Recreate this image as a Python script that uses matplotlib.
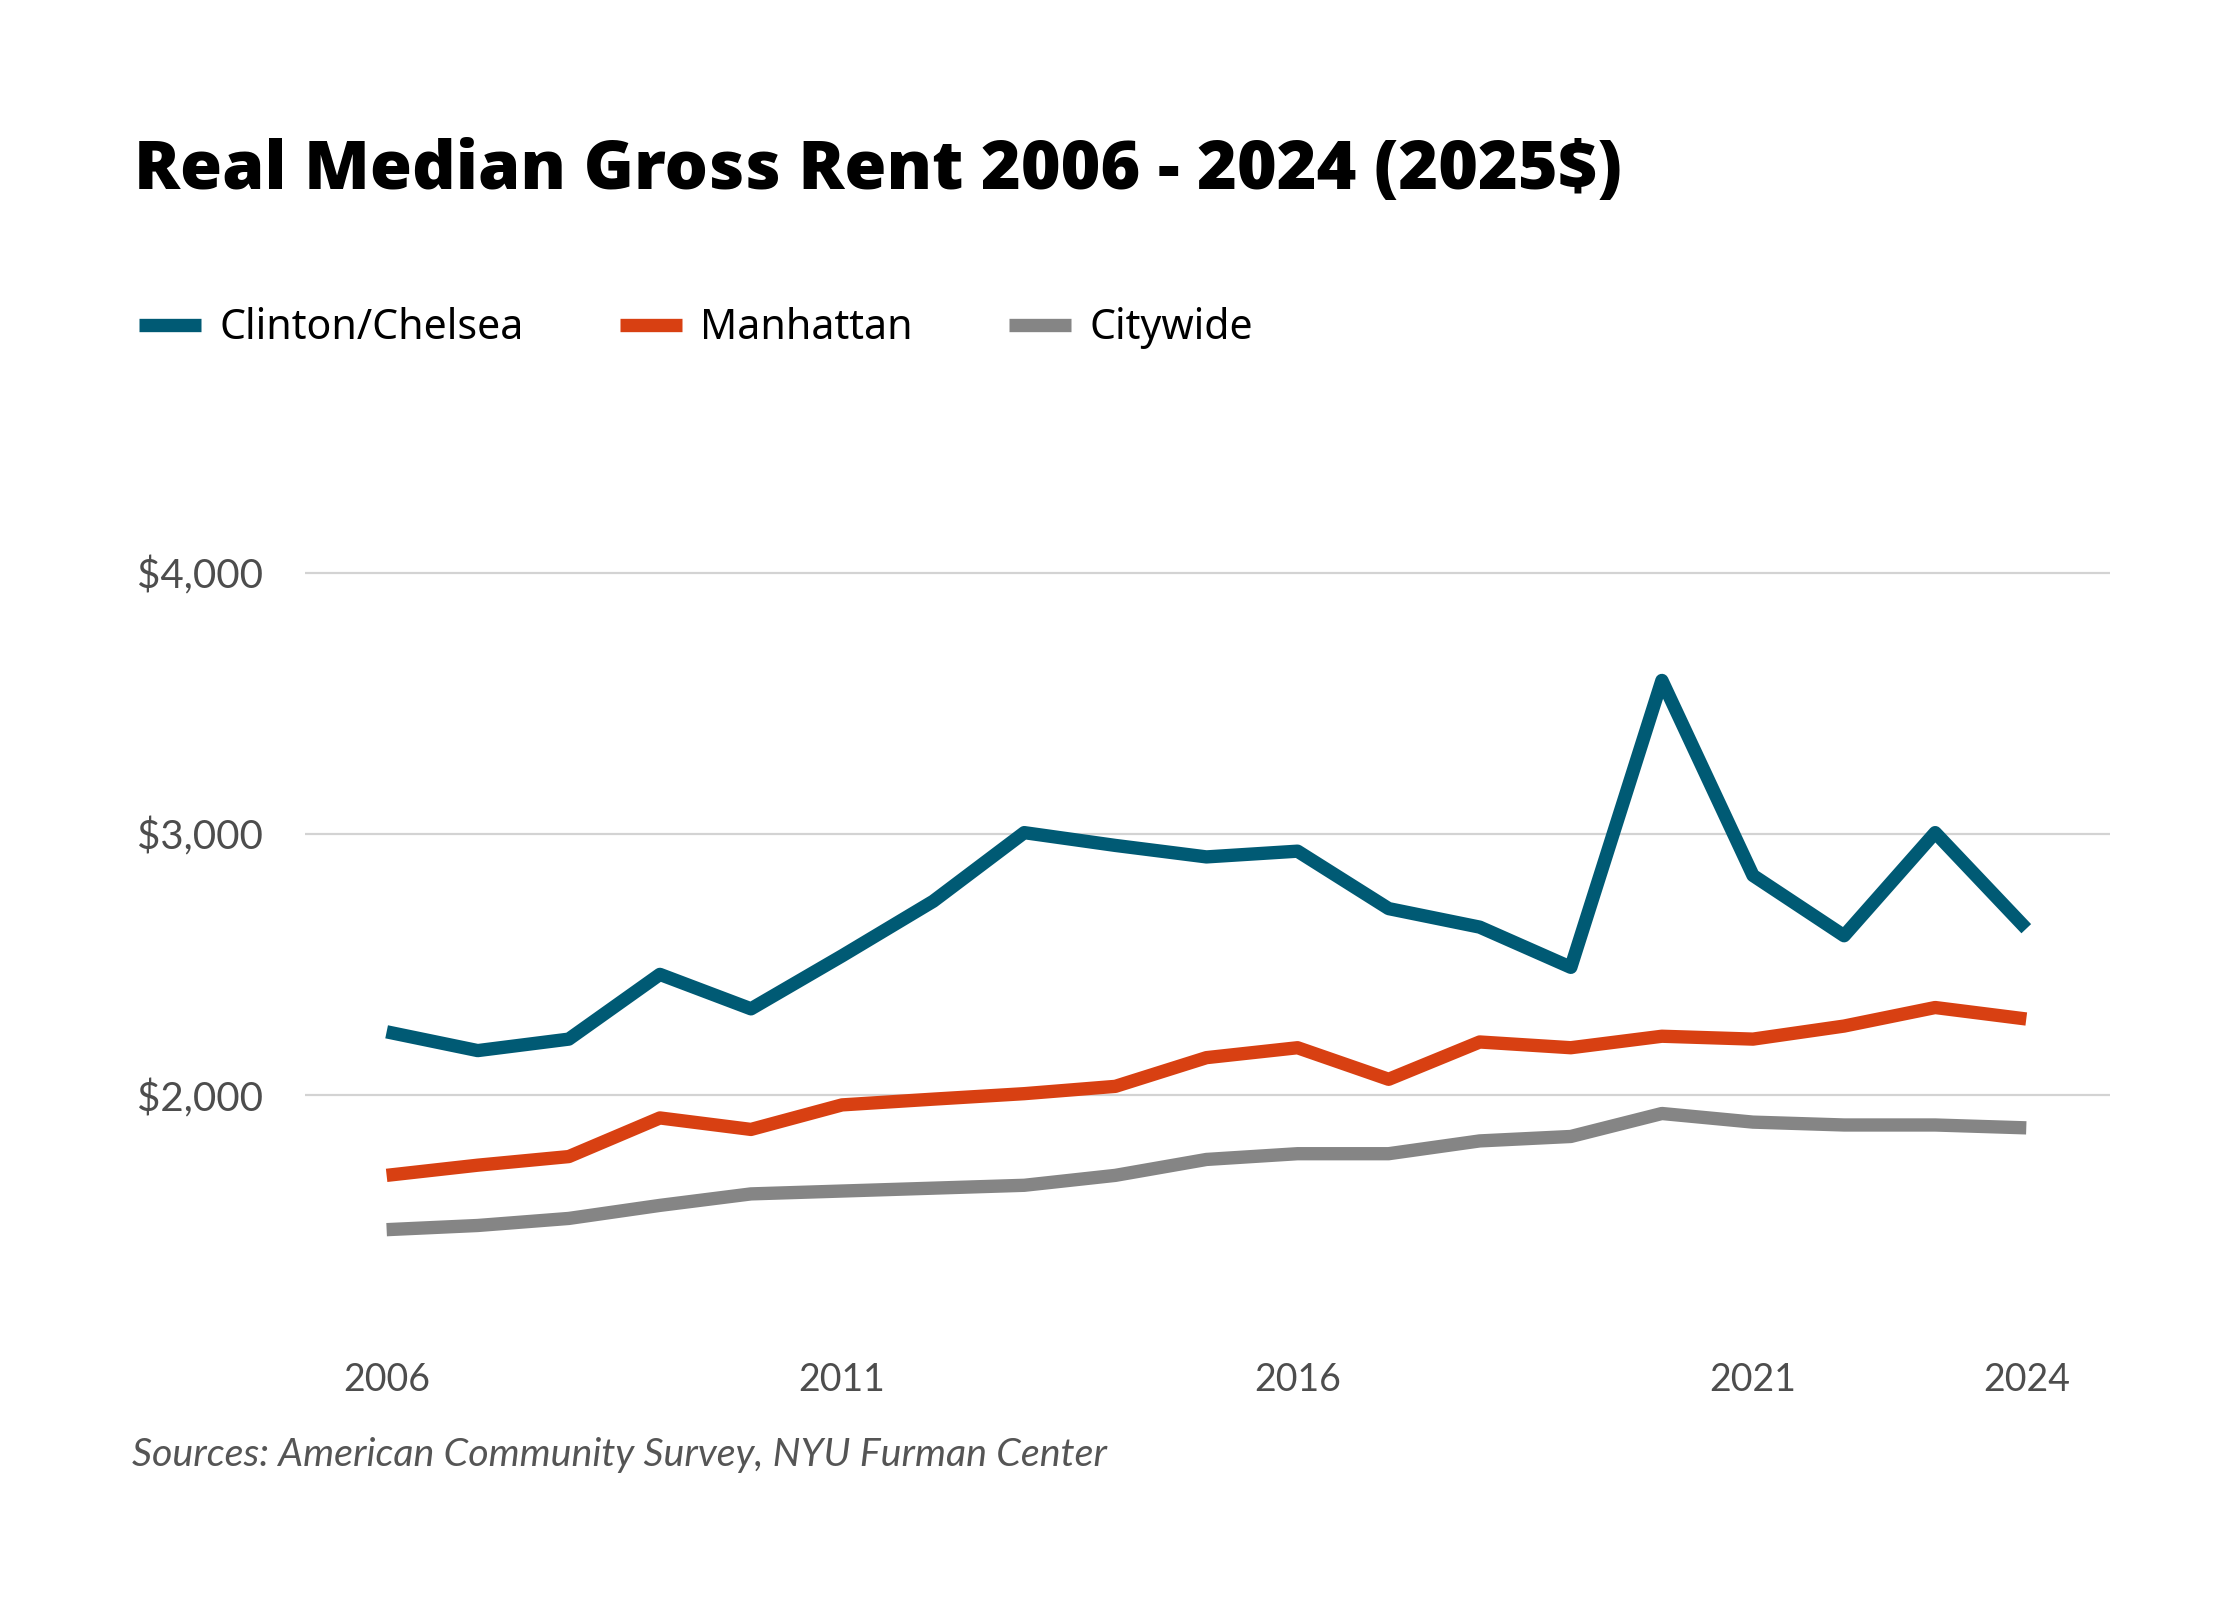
import matplotlib
matplotlib.use("Agg")
import matplotlib.pyplot as plt
from matplotlib.ticker import FuncFormatter

# values (2025 dollars)
years = list(range(2006, 2025))
clinton_chelsea = [2242, 2170, 2214, 2462, 2330, 2533, 2742, 3005, 2956, 2912,
                   2934, 2714, 2643, 2489, 3588, 2841, 2610, 3005, 2637]
manhattan = [1692, 1731, 1764, 1912, 1868, 1962, 1984, 2005, 2033, 2143,
             2181, 2060, 2203, 2181, 2225, 2214, 2264, 2335, 2291]
citywide = [1484, 1500, 1527, 1577, 1621, 1632, 1643, 1654, 1692, 1753,
            1775, 1775, 1824, 1841, 1929, 1896, 1885, 1885, 1874]

x_ticks = [2006, 2011, 2016, 2021, 2024]
y_ticks = [2000, 3000, 4000]

series = [
    ("Clinton/Chelsea", clinton_chelsea, "#005a74"),
    ("Manhattan", manhattan, "#d84012"),
    ("Citywide", citywide, "#858585"),
]

plt.rcParams['font.family'] = ['Lato', 'DejaVu Sans']

fig = plt.figure(figsize=(11.2, 8), dpi=200)
ax = fig.add_axes([0.136, 0.1525, 0.806, 0.571])

for name, vals, col in series:
    ax.plot(years, vals, color=col, linewidth=4.8, label=name,
            solid_capstyle='butt', solid_joinstyle='round')

ax.set_xlim(2005.1, 2024.92)
ax.set_ylim(1000, 4500)
ax.set_xticks(x_ticks)
ax.set_yticks(y_ticks)
ax.yaxis.set_major_formatter(FuncFormatter(lambda v, p: f"${v:,.0f}"))
ax.grid(axis='y', color='#d3d3d3', linewidth=0.8)
ax.set_axisbelow(True)
for s in ax.spines.values():
    s.set_visible(False)
ax.tick_params(length=0, labelsize=13.5, colors='#4d4d4d')
ax.tick_params(axis='x', pad=2)
ax.tick_params(axis='y', labelsize=14.5, pad=15)

fig.text(0.06, 0.882, "Real Median Gross Rent 2006 - 2024 (2025$)",
         fontsize=24.5, fontweight='heavy', color='black', va='baseline',
         family=['Open Sans', 'DejaVu Sans'])

fig.legend(loc='center left', bbox_to_anchor=(0.062, 0.795), ncol=3,
           frameon=False, handlelength=1.5, handletextpad=0.45,
           columnspacing=2.35, borderpad=0, borderaxespad=0,
           prop={'family': ['Noto Sans', 'DejaVu Sans'], 'size': 14.8})

fig.text(0.059, 0.0905, "Sources: American Community Survey, NYU Furman Center",
         fontsize=14.2, style='italic', color='#555555', va='center')

fig.savefig("out.png", dpi=200, facecolor='white')
